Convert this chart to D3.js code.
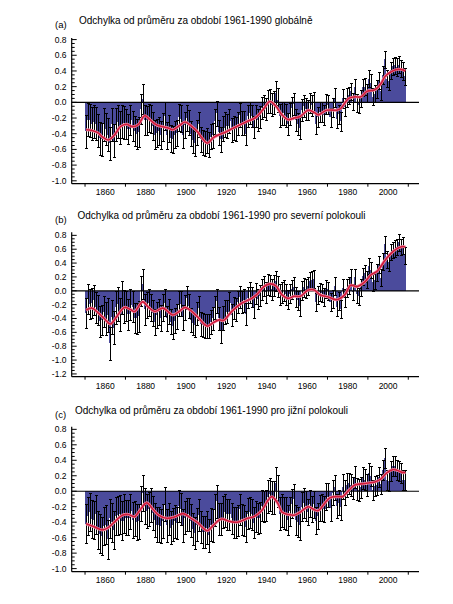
<!DOCTYPE html>
<html><head><meta charset="utf-8">
<script src="https://cdn.jsdelivr.net/npm/d3@7"></script>
<style>
body{margin:0;background:#fff}
svg{display:block}
text{font-family:"Liberation Sans",Arial,sans-serif;fill:#000}
</style>
</head><body>
<svg id="chart" width="453" height="604"></svg>
<script>
const firstYear = 1850;
const lastYear = 2008;

// Annual anomalies (°C, vs 1961-1990)
const globalVals = [
-0.37,-0.22,-0.23,-0.27,-0.25,-0.27,-0.36,-0.46,-0.47,-0.28,
-0.34,-0.41,-0.52,-0.28,-0.49,-0.28,-0.25,-0.32,-0.24,-0.26,
-0.28,-0.34,-0.23,-0.30,-0.37,-0.40,-0.38,-0.08,0.04,-0.23,
-0.23,-0.20,-0.21,-0.30,-0.41,-0.39,-0.37,-0.42,-0.31,-0.17,
-0.42,-0.33,-0.46,-0.47,-0.41,-0.39,-0.19,-0.21,-0.41,-0.29,
-0.20,-0.26,-0.40,-0.48,-0.52,-0.38,-0.28,-0.47,-0.51,-0.52,
-0.49,-0.54,-0.44,-0.42,-0.24,-0.14,-0.38,-0.47,-0.33,-0.28,
-0.30,-0.24,-0.35,-0.33,-0.34,-0.27,-0.16,-0.26,-0.26,-0.40,
-0.18,-0.13,-0.18,-0.31,-0.17,-0.22,-0.19,-0.07,-0.05,-0.09,
0.01,0.02,-0.03,0.00,0.12,0.03,-0.17,-0.14,-0.14,-0.17,
-0.27,-0.15,-0.07,-0.02,-0.23,-0.27,-0.33,-0.10,-0.05,-0.08,
-0.10,-0.01,-0.04,0.00,-0.27,-0.19,-0.12,-0.12,-0.16,-0.02,
-0.03,-0.19,-0.07,0.06,-0.21,-0.15,-0.24,0.05,-0.06,0.06,
0.09,0.14,0.01,0.19,-0.01,-0.03,0.05,0.19,0.20,0.12,
0.30,0.25,0.07,0.11,0.17,0.28,0.14,0.35,0.55,0.30,
0.27,0.41,0.46,0.47,0.45,0.48,0.43,0.40,0.33];

const northVals = [
-0.32,-0.12,-0.19,-0.18,-0.13,-0.24,-0.28,-0.44,-0.42,-0.30,
-0.40,-0.35,-0.76,-0.38,-0.53,-0.24,-0.19,-0.34,-0.10,-0.23,
-0.22,-0.34,-0.20,-0.23,-0.39,-0.40,-0.37,0.00,0.10,-0.27,
-0.21,-0.17,-0.24,-0.32,-0.45,-0.35,-0.31,-0.39,-0.24,-0.17,
-0.40,-0.30,-0.45,-0.51,-0.43,-0.37,-0.19,-0.19,-0.38,-0.24,
-0.10,-0.22,-0.42,-0.47,-0.50,-0.33,-0.25,-0.48,-0.49,-0.51,
-0.51,-0.51,-0.45,-0.40,-0.24,-0.15,-0.40,-0.58,-0.39,-0.31,
-0.30,-0.18,-0.35,-0.25,-0.27,-0.16,-0.09,-0.16,-0.14,-0.34,
-0.10,-0.02,-0.09,-0.24,-0.04,-0.12,-0.07,0.02,0.07,-0.02,
0.09,0.08,0.02,0.08,0.14,0.06,-0.05,-0.03,0.00,-0.05,
-0.13,-0.04,0.02,0.06,-0.09,-0.14,-0.22,0.00,0.05,0.03,
0.07,0.14,0.15,0.17,-0.16,-0.06,-0.02,-0.03,-0.09,0.03,
-0.01,-0.16,-0.12,0.07,-0.23,-0.15,-0.27,0.04,-0.10,0.04,
0.08,0.20,-0.02,0.20,-0.05,-0.08,0.05,0.21,0.25,0.16,
0.36,0.30,0.12,0.15,0.26,0.38,0.19,0.42,0.67,0.45,
0.41,0.56,0.59,0.61,0.63,0.70,0.63,0.65,0.51];

const southVals = [
-0.42,-0.32,-0.27,-0.36,-0.37,-0.30,-0.50,-0.55,-0.58,-0.45,
-0.43,-0.62,-0.35,-0.40,-0.50,-0.32,-0.31,-0.30,-0.38,-0.29,
-0.34,-0.34,-0.26,-0.37,-0.35,-0.40,-0.39,-0.16,-0.02,-0.19,
-0.25,-0.23,-0.18,-0.28,-0.37,-0.43,-0.43,-0.45,-0.38,-0.17,
-0.44,-0.36,-0.47,-0.43,-0.39,-0.41,-0.19,-0.23,-0.44,-0.34,
-0.30,-0.30,-0.38,-0.49,-0.54,-0.43,-0.31,-0.46,-0.53,-0.53,
-0.47,-0.57,-0.43,-0.44,-0.24,-0.13,-0.36,-0.36,-0.27,-0.25,
-0.30,-0.30,-0.35,-0.41,-0.41,-0.38,-0.23,-0.36,-0.38,-0.46,
-0.29,-0.27,-0.30,-0.41,-0.33,-0.35,-0.34,-0.19,-0.20,-0.19,
-0.07,-0.04,-0.08,-0.08,0.10,0.00,-0.29,-0.25,-0.28,-0.29,
-0.37,-0.26,-0.16,-0.10,-0.37,-0.40,-0.44,-0.20,-0.15,-0.19,
-0.27,-0.16,-0.23,-0.17,-0.38,-0.32,-0.22,-0.21,-0.23,-0.07,
-0.05,-0.22,-0.02,0.05,-0.19,-0.15,-0.21,0.06,-0.02,0.08,
0.10,0.08,0.04,0.18,0.03,0.02,0.05,0.17,0.15,0.08,
0.24,0.20,0.02,0.07,0.08,0.18,0.09,0.28,0.43,0.15,
0.13,0.26,0.33,0.33,0.27,0.26,0.23,0.15,0.15];

// Uncertainty half-width per decade (1850s ... 2000s)
const decades = [1850,1860,1870,1880,1890,1900,1910,1920,1930,1940,1950,1960,1970,1980,1990,2000];
const globalErr = [0.21,0.21,0.19,0.18,0.17,0.16,0.16,0.15,0.14,0.15,0.14,0.13,0.12,0.11,0.11,0.11];
const northErr  = [0.22,0.24,0.22,0.19,0.18,0.17,0.17,0.16,0.15,0.15,0.14,0.13,0.13,0.12,0.12,0.12];
const southErr  = [0.25,0.25,0.23,0.22,0.21,0.21,0.21,0.20,0.20,0.21,0.19,0.17,0.16,0.14,0.13,0.13];

// Smoothed curves: [year, value]
const globalSmooth = [[1850,-0.35],[1853,-0.36],[1856,-0.39],[1858,-0.44],[1861,-0.48],[1864,-0.42],[1867,-0.31],[1870,-0.28],[1873,-0.31],[1876,-0.28],[1879,-0.17],[1882,-0.23],[1885,-0.29],[1888,-0.31],[1891,-0.33],[1893,-0.35],[1896,-0.30],[1899,-0.25],[1902,-0.30],[1905,-0.37],[1907,-0.44],[1910,-0.52],[1913,-0.45],[1916,-0.41],[1919,-0.38],[1922,-0.34],[1926,-0.29],[1930,-0.24],[1933,-0.21],[1935,-0.17],[1938,-0.08],[1941,0.01],[1944,-0.05],[1947,-0.16],[1950,-0.22],[1953,-0.20],[1956,-0.18],[1960,-0.10],[1963,-0.13],[1965,-0.16],[1969,-0.10],[1974,-0.10],[1976,-0.08],[1980,0.05],[1983,0.07],[1986,0.07],[1989,0.14],[1993,0.16],[1996,0.24],[1998,0.33],[2001,0.39],[2004,0.42],[2006,0.42],[2008,0.40]];
const northSmooth = [[1850,-0.28],[1853,-0.25],[1856,-0.32],[1859,-0.40],[1862,-0.48],[1865,-0.38],[1869,-0.24],[1872,-0.27],[1874,-0.30],[1878,-0.16],[1881,-0.24],[1884,-0.30],[1888,-0.25],[1893,-0.35],[1896,-0.30],[1899,-0.24],[1902,-0.29],[1905,-0.37],[1910,-0.51],[1913,-0.46],[1916,-0.42],[1918,-0.43],[1922,-0.30],[1927,-0.18],[1932,-0.11],[1935,-0.04],[1938,0.06],[1941,0.10],[1944,0.07],[1947,-0.06],[1950,-0.11],[1953,-0.08],[1956,-0.08],[1960,0.01],[1963,0.01],[1966,-0.06],[1970,-0.09],[1974,-0.13],[1978,-0.06],[1981,0.08],[1984,0.06],[1988,0.13],[1991,0.23],[1994,0.28],[1998,0.44],[2001,0.54],[2004,0.61],[2007,0.64],[2008,0.63]];
const southSmooth = [[1850,-0.42],[1854,-0.46],[1858,-0.50],[1861,-0.47],[1864,-0.40],[1868,-0.31],[1871,-0.30],[1874,-0.33],[1876,-0.27],[1880,-0.15],[1883,-0.23],[1886,-0.31],[1890,-0.35],[1894,-0.33],[1898,-0.29],[1902,-0.35],[1905,-0.40],[1910,-0.51],[1913,-0.44],[1917,-0.36],[1921,-0.39],[1925,-0.40],[1930,-0.35],[1933,-0.33],[1937,-0.25],[1940,-0.12],[1942,-0.07],[1945,-0.16],[1947,-0.27],[1950,-0.30],[1953,-0.31],[1956,-0.27],[1960,-0.20],[1963,-0.24],[1965,-0.25],[1968,-0.16],[1971,-0.08],[1975,-0.07],[1977,-0.07],[1980,0.01],[1983,0.08],[1988,0.10],[1993,0.12],[1996,0.16],[1999,0.24],[2002,0.28],[2004,0.27],[2007,0.24],[2008,0.25]];

// Tick values / labels
const xTickLabels = [1860,1880,1900,1920,1940,1960,1980,2000];
const xTickMarks = [1850,1870,1890,1910,1930,1950,1970,1990,2010];
const yTicksA = [0.8,0.6,0.4,0.2,0.0,-0.2,-0.4,-0.6,-0.8,-1.0];
const yTicksB = [0.8,0.6,0.4,0.2,0.0,-0.2,-0.4,-0.6,-0.8,-1.0,-1.2];
const yTicksC = [0.8,0.6,0.4,0.2,0.0,-0.2,-0.4,-0.6,-0.8,-1.0];

const titles = [
  "Odchylka od průměru za období 1961-1990 globálně",
  "Odchylka od průměru za období 1961-1990 pro severní polokouli",
  "Odchylka od průměru za období 1961-1990 pro jižní polokouli"
];
const panelLabels = ["(a)","(b)","(c)"];

const years = d3.range(firstYear, lastYear + 1);
const svg = d3.select("#chart");

const x = d3.scaleLinear().domain([1843.4, 2015.3]).range([71.7, 419]);

const panels = [
  {vals: globalVals, err: globalErr, smooth: globalSmooth, ticks: yTicksA,
   dom: [-1.037, 0.82], rng: [183.7, 38], labY: 27.5, titleY: 23.5, titleX: 79, xlabY: 195},
  {vals: northVals, err: northErr, smooth: northSmooth, ticks: yTicksB,
   dom: [-1.24, 0.844], rng: [376.7, 232.3], labY: 223, titleY: 219, titleX: 77.5, xlabY: 389},
  {vals: southVals, err: southErr, smooth: southSmooth, ticks: yTicksC,
   dom: [-1.04, 0.834], rng: [571.7, 426.7], labY: 418, titleY: 414, titleX: 75, xlabY: 583}
];

const fmt = v => d3.format(".1f")(v).replace("\u2212", "-");
const barFill = "#4b4b9c";

panels.forEach((p, pi) => {
  const y = d3.scaleLinear().domain(p.dom).range(p.rng);
  const g = svg.append("g");
  const data = years.map((yr, i) => ({yr, v: p.vals[i], e: p.err[decades.indexOf(Math.floor(yr / 10) * 10)]}));

  // panel label and title
  g.append("text").attr("x", 55).attr("y", p.labY).attr("font-size", 9.5).text(panelLabels[pi]);
  g.append("text").attr("x", p.titleX).attr("y", p.titleY).attr("font-size", 10).text(titles[pi]);

  // bars
  g.append("g").attr("shape-rendering", "crispEdges").selectAll("rect").data(data).join("rect")
    .attr("x", d => x(d.yr))
    .attr("width", d => x(d.yr + 1) - x(d.yr) + 0.1)
    .attr("y", d => Math.min(y(d.v), y(0)))
    .attr("height", d => Math.abs(y(d.v) - y(0)))
    .attr("fill", barFill);

  // zero line
  g.append("line").attr("x1", x.range()[0]).attr("x2", x.range()[1])
    .attr("y1", y(0)).attr("y2", y(0)).attr("stroke", "#000").attr("stroke-width", 1.2);

  // error bars
  const eb = g.append("g").attr("stroke", "#000").attr("stroke-width", 1).attr("fill", "none")
    .attr("shape-rendering", "crispEdges");
  data.forEach(d => {
    const cx = Math.round(x(d.yr + 0.5)) + 0.5;
    const lo = Math.round(y(d.v - d.e)) + 0.5, hi = Math.round(y(d.v + d.e)) + 0.5;
    eb.append("path").attr("d", `M${cx},${lo}V${hi}M${cx-1.5},${lo}H${cx+1.5}M${cx-1.5},${hi}H${cx+1.5}`);
  });

  // smoothed curve
  const line = d3.line().x(d => x(d[0] + 0.5)).y(d => y(d[1])).curve(d3.curveCatmullRom.alpha(0.5));
  g.append("path").attr("d", line(p.smooth)).attr("fill", "none")
    .attr("stroke", "#ee8fa8").attr("stroke-width", 3).attr("stroke-linejoin", "round");
  g.append("path").attr("d", line(p.smooth)).attr("fill", "none")
    .attr("stroke", "#d01c3c").attr("stroke-width", 1.6).attr("stroke-linejoin", "round");

  // y axis
  const ax = g.append("g").attr("stroke", "#000");
  ax.append("line").attr("x1", x.range()[0]).attr("x2", x.range()[0])
    .attr("y1", p.rng[1]).attr("y2", p.rng[0]).attr("stroke-width", 1.2);
  const lowT = d3.min(p.ticks), highT = d3.max(p.ticks);
  d3.range(Math.round(lowT * 20), Math.round(highT * 20) + 1).forEach(k => {
    const yy = y(k / 20);
    const major = k % 4 === 0;
    ax.append("line").attr("x1", x.range()[0]).attr("x2", x.range()[0] + (major ? 5 : 3))
      .attr("y1", yy).attr("y2", yy).attr("stroke-width", 1);
  });
  g.append("g").selectAll("text").data(p.ticks).join("text")
    .attr("x", 66.5).attr("y", d => y(d)).attr("dy", "0.35em")
    .attr("text-anchor", "end").attr("font-size", 8.5).text(fmt);

  // x axis
  ax.append("line").attr("x1", x.range()[0]).attr("x2", x.range()[1])
    .attr("y1", p.rng[0]).attr("y2", p.rng[0]).attr("stroke-width", 1.2);
  xTickMarks.forEach(t => {
    ax.append("line").attr("x1", x(t)).attr("x2", x(t))
      .attr("y1", p.rng[0]).attr("y2", p.rng[0] + 3).attr("stroke-width", 1);
  });
  g.append("g").selectAll("text").data(xTickLabels).join("text")
    .attr("x", d => x(d)).attr("y", p.xlabY)
    .attr("text-anchor", "middle").attr("font-size", 8.5).text(d => d);
});
</script>
</body></html>
